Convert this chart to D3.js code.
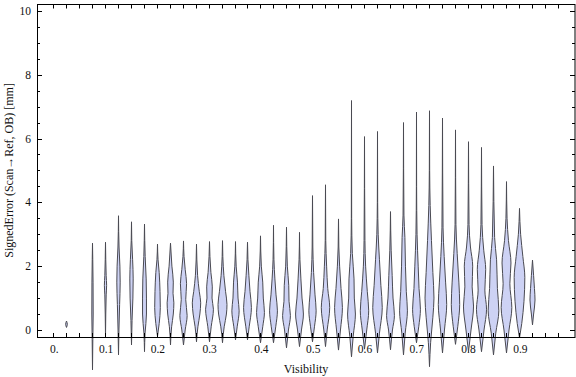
<!DOCTYPE html>
<html>
<head>
<meta charset="utf-8">
<script src="https://cdn.jsdelivr.net/npm/d3@7"></script>
<style>
  body { margin: 0; background: #fff; }
  svg { display: block; font-family: "Liberation Serif", "DejaVu Serif", serif; }
  .frame { fill: none; stroke: #000; stroke-width: 1; }
  .tick-line { stroke: #000; stroke-width: 1; }
  .tick-label { font-size: 11.5px; fill: #111; }
  .axis-title { font-size: 12px; fill: #111; }
  .violin { fill: #cdd2f4; stroke: #4a4a52; stroke-width: 1; stroke-linejoin: round; }
</style>
</head>
<body>
<svg id="chart"></svg>
<script>
// category positions along the x axis (visibility bins)
const visibility = [0, 0.025, 0.05, 0.075, 0.1, 0.125, 0.15, 0.175, 0.2, 0.225,
  0.25, 0.275, 0.3, 0.325, 0.35, 0.375, 0.4, 0.425, 0.45, 0.475,
  0.5, 0.525, 0.55, 0.575, 0.6, 0.625, 0.65, 0.675, 0.7, 0.725,
  0.75, 0.775, 0.8, 0.825, 0.85, 0.875, 0.9, 0.925, 0.95, 0.975];

const xTickValues = [0, 0.1, 0.2, 0.3, 0.4, 0.5, 0.6, 0.7, 0.8, 0.9];
const xTickLabels = ['0.', '0.1', '0.2', '0.3', '0.4', '0.5', '0.6', '0.7', '0.8', '0.9'];
const yTickValues = [0, 2, 4, 6, 8, 10];
const yTickLabels = ['0', '2', '4', '6', '8', '10'];

// bins that actually hold a distribution
const violinBins = [0.025, 0.075, 0.1, 0.125, 0.15, 0.175, 0.2, 0.225, 0.25, 0.275,
  0.3, 0.325, 0.35, 0.375, 0.4, 0.425, 0.45, 0.475, 0.5, 0.525,
  0.55, 0.575, 0.6, 0.625, 0.65, 0.675, 0.7, 0.725, 0.75, 0.775,
  0.8, 0.825, 0.85, 0.875, 0.9, 0.925];

// smoothed density outline of each bin: [signed error (mm), relative density]
const violinProfiles = [
  [[0.08, 0], [0.18, 0.15], [0.28, 0]],
  [[-1.25, 0], [-0.3, 0.06], [0.5, 0.12], [1.5, 0.1], [2.2, 0.05], [2.72, 0]],
  [[-0.2, 0], [0.5, 0.05], [1.1, 0.12], [1.4, 0.2], [1.7, 0.12], [2.2, 0.05], [2.75, 0]],
  [[-0.78, 0], [0, 0.08], [0.8, 0.2], [1.5, 0.3], [2.0, 0.25], [2.6, 0.1], [3.58, 0]],
  [[-0.47, 0], [0.3, 0.1], [1.0, 0.25], [1.6, 0.3], [2.2, 0.2], [2.8, 0.05], [3.39, 0]],
  [[-0.68, 0], [-0.1, 0.1], [0.5, 0.35], [1.0, 0.35], [1.6, 0.3], [2.3, 0.12], [3.32, 0]],
  [[-0.2, 0], [0.2, 0.3], [0.7, 0.5], [1.2, 0.45], [1.8, 0.3], [2.2, 0.1], [2.69, 0]],
  [[-0.47, 0], [0.1, 0.2], [0.5, 0.5], [0.85, 0.6], [1.15, 0.45], [1.5, 0.5], [2.0, 0.25], [2.72, 0]],
  [[-0.47, 0], [0, 0.3], [0.45, 0.65], [0.95, 0.4], [1.45, 0.55], [1.9, 0.3], [2.3, 0.1], [2.79, 0]],
  [[-0.37, 0], [0.1, 0.25], [0.5, 0.6], [0.85, 0.75], [1.2, 0.5], [1.7, 0.2], [2.69, 0]],
  [[-0.37, 0], [0.1, 0.3], [0.65, 0.7], [1.0, 0.45], [1.35, 0.5], [1.8, 0.25], [2.3, 0.08], [2.77, 0]],
  [[-0.4, 0], [0.1, 0.3], [0.5, 0.7], [0.8, 0.8], [1.2, 0.55], [1.7, 0.25], [2.3, 0.06], [2.8, 0]],
  [[-0.31, 0], [0.1, 0.3], [0.6, 0.65], [1.0, 0.45], [1.5, 0.35], [2.0, 0.12], [2.77, 0]],
  [[-0.31, 0], [0.1, 0.3], [0.7, 0.7], [1.2, 0.45], [1.7, 0.25], [2.2, 0.08], [2.75, 0]],
  [[-0.4, 0], [0.1, 0.4], [0.55, 0.7], [1.0, 0.5], [1.5, 0.4], [2.0, 0.15], [2.95, 0]],
  [[-0.4, 0], [0.1, 0.4], [0.6, 0.7], [1.1, 0.45], [1.6, 0.25], [2.2, 0.08], [3.28, 0]],
  [[-0.56, 0], [0, 0.35], [0.45, 0.7], [0.9, 0.45], [1.4, 0.4], [2.0, 0.15], [3.22, 0]],
  [[-0.52, 0], [0, 0.35], [0.5, 0.7], [1.0, 0.45], [1.6, 0.25], [2.2, 0.08], [3.06, 0]],
  [[-0.37, 0], [0.1, 0.35], [0.6, 0.65], [1.1, 0.45], [1.8, 0.2], [2.6, 0.06], [4.21, 0]],
  [[-0.52, 0], [0, 0.3], [0.7, 0.75], [1.3, 0.4], [2.0, 0.2], [2.8, 0.05], [4.55, 0]],
  [[-0.63, 0], [0, 0.35], [0.7, 0.7], [1.3, 0.45], [2.0, 0.2], [2.6, 0.06], [3.48, 0]],
  [[-0.84, 0], [-0.2, 0.3], [0.5, 0.7], [1.0, 0.5], [1.6, 0.45], [2.4, 0.15], [3.5, 0.03], [7.19, 0]],
  [[-0.6, 0], [0, 0.4], [0.6, 0.75], [1.2, 0.5], [2.0, 0.2], [2.8, 0.08], [6.06, 0]],
  [[-0.72, 0], [-0.1, 0.35], [0.7, 0.85], [1.4, 0.6], [2.2, 0.35], [3.0, 0.12], [4.0, 0.03], [6.22, 0]],
  [[-0.62, 0], [0, 0.35], [0.45, 0.7], [1.0, 0.45], [1.7, 0.3], [2.5, 0.12], [3.71, 0]],
  [[-0.78, 0], [-0.1, 0.3], [0.6, 0.7], [1.2, 0.5], [2.0, 0.35], [2.9, 0.25], [3.6, 0.08], [6.5, 0]],
  [[-0.4, 0], [0.1, 0.4], [0.65, 0.7], [1.3, 0.45], [2.0, 0.3], [3.0, 0.1], [4.5, 0.02], [6.83, 0]],
  [[-1.15, 0], [-0.4, 0.2], [0.4, 0.6], [1.0, 0.8], [1.8, 0.6], [2.8, 0.35], [3.9, 0.12], [5.0, 0.03], [6.87, 0]],
  [[-0.72, 0], [0, 0.35], [0.8, 0.75], [1.5, 0.55], [2.3, 0.3], [3.2, 0.1], [6.64, 0]],
  [[-0.45, 0], [0.1, 0.4], [0.8, 0.75], [1.5, 0.6], [2.4, 0.3], [3.3, 0.08], [6.27, 0]],
  [[-0.68, 0], [0, 0.45], [0.75, 0.9], [1.35, 0.65], [2.0, 0.75], [2.6, 0.35], [3.3, 0.1], [5.9, 0]],
  [[-0.68, 0], [0, 0.45], [0.65, 0.9], [1.25, 0.6], [1.9, 0.75], [2.5, 0.4], [3.3, 0.1], [5.72, 0]],
  [[-0.78, 0], [-0.1, 0.4], [0.6, 0.95], [1.3, 0.7], [2.2, 0.55], [2.9, 0.2], [5.14, 0]],
  [[-0.72, 0], [0, 0.45], [0.7, 0.95], [1.45, 0.6], [2.1, 0.8], [2.8, 0.35], [3.5, 0.1], [4.65, 0]],
  [[-0.25, 0], [0.2, 0.4], [0.9, 0.8], [1.65, 0.95], [2.3, 0.6], [3.0, 0.2], [3.81, 0]],
  [[0.16, 0], [0.5, 0.2], [0.94, 0.45], [1.3, 0.35], [1.7, 0.2], [2.19, 0]]
];

class ViolinChart {
    constructor(_config) {
        this.config = {
            parentElement: _config.parentElement,
            containerWidth: _config.containerWidth || 576,
            containerHeight: _config.containerHeight || 377,
            frame: {left: 37, right: 575, top: 4.5, bottom: 337}
        };
        this.initVis();
    }

    initVis() {
        let vis = this;
        const f = vis.config.frame;

        vis.svg = d3.select(vis.config.parentElement)
            .attr('width', vis.config.containerWidth)
            .attr('height', vis.config.containerHeight);

        vis.xScale = d3.scaleLinear()
            .domain([-0.0315, 1.0075])
            .range([f.left, f.right]);

        vis.yScale = d3.scaleLinear()
            .domain([-0.22, 10.2])
            .range([f.bottom, f.top]);

        // relative density -> half width in px
        vis.wScale = d3.scaleLinear()
            .domain([0, 1])
            .range([0, 5.6]);

        vis.renderVis();
        vis.renderAxes();
    }

    renderVis() {
        let vis = this;

        const g = vis.svg.append('g').attr('class', 'violins');

        violinBins.forEach((bin, i) => {
            // snap the centre line to a pixel so the thin tails stay crisp
            const cx = Math.round(vis.xScale(bin)) + 0.5;
            const area = d3.area()
                .y(d => vis.yScale(d[0]))
                .x0(d => cx - vis.wScale(d[1]))
                .x1(d => cx + vis.wScale(d[1]))
                .curve(d3.curveMonotoneY);
            g.append('path')
                .attr('class', 'violin')
                .attr('d', area(violinProfiles[i]));
        });
    }

    renderAxes() {
        let vis = this;
        const f = vis.config.frame;
        const ax = vis.svg.append('g').attr('class', 'axes');

        // minor ticks every 0.5 on the y axis, majors every 2
        const yMinor = d3.range(0, 10.01, 0.5);
        yMinor.forEach(v => {
            const len = v % 2 === 0 ? 5 : 3;
            const y = Math.round(vis.yScale(v)) + 0.5;
            ax.append('line').attr('class', 'tick-line')
                .attr('x1', f.left).attr('x2', f.left + len)
                .attr('y1', y).attr('y2', y);
            ax.append('line').attr('class', 'tick-line')
                .attr('x1', f.right).attr('x2', f.right - len)
                .attr('y1', y).attr('y2', y);
        });

        visibility.forEach(v => {
            const x = Math.round(vis.xScale(v)) + 0.5;
            ax.append('line').attr('class', 'tick-line')
                .attr('x1', x).attr('x2', x)
                .attr('y1', f.bottom).attr('y2', f.bottom - 4);
            ax.append('line').attr('class', 'tick-line')
                .attr('x1', x).attr('x2', x)
                .attr('y1', f.top).attr('y2', f.top + 4);
        });

        ax.append('rect')
            .attr('class', 'frame')
            .attr('x', f.left + 0.5)
            .attr('y', f.top)
            .attr('width', f.right - f.left - 0.5)
            .attr('height', f.bottom - f.top + 0.5);

        ax.selectAll('.y-label')
            .data(yTickValues)
            .join('text')
            .attr('class', 'tick-label y-label')
            .attr('x', f.left - 6)
            .attr('y', d => vis.yScale(d))
            .attr('dy', '0.35em')
            .attr('text-anchor', 'end')
            .text((d, i) => yTickLabels[i]);

        ax.selectAll('.x-label')
            .data(xTickValues)
            .join('text')
            .attr('class', 'tick-label x-label')
            .attr('x', d => vis.xScale(d) + 1)
            .attr('y', f.bottom + 16)
            .attr('text-anchor', 'middle')
            .text((d, i) => xTickLabels[i]);

        ax.append('text')
            .attr('class', 'axis-title')
            .attr('x', (f.left + f.right) / 2)
            .attr('y', 373)
            .attr('text-anchor', 'middle')
            .text('Visibility');

        ax.append('text')
            .attr('class', 'axis-title')
            .attr('transform', `translate(13,${vis.yScale(5)}) rotate(-90)`)
            .attr('text-anchor', 'middle')
            .text('SignedError (Scan\u2192Ref, OB) [mm]');
    }
}

new ViolinChart({parentElement: '#chart'});
</script>
</body>
</html>
